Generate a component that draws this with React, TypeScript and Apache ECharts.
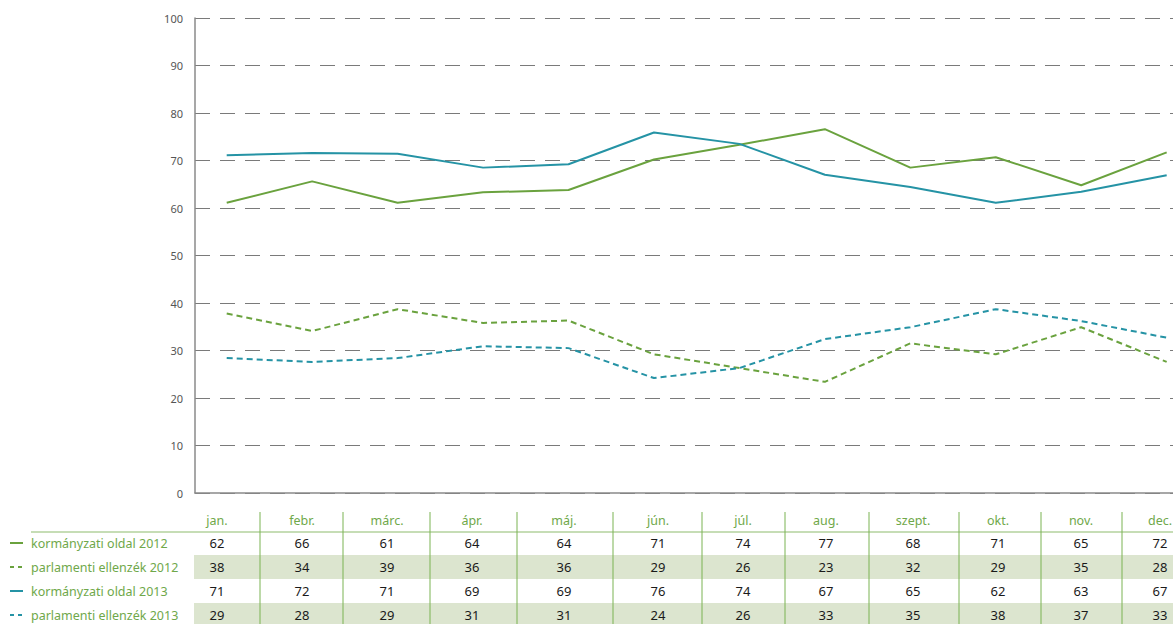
import React, { useEffect, useRef } from "react";
import * as echarts from "echarts";

const months = ["jan.", "febr.", "márc.", "ápr.", "máj.", "jún.", "júl.", "aug.", "szept.", "okt.", "nov.", "dec."];
const seriesNames = ["kormányzati oldal 2012", "parlamenti ellenzék 2012", "kormányzati oldal 2013", "parlamenti ellenzék 2013"];
const korm2012 = [61.1, 65.6, 61.1, 63.3, 63.8, 70.2, 73.3, 76.6, 68.5, 70.7, 64.8, 71.7];
const parl2012 = [37.8, 34.1, 38.7, 35.8, 36.3, 29.2, 26.3, 23.4, 31.5, 29.2, 34.9, 27.6];
const korm2013 = [71.1, 71.6, 71.4, 68.5, 69.2, 75.9, 73.5, 67.0, 64.4, 61.1, 63.4, 66.9];
const parl2013 = [28.4, 27.6, 28.4, 30.9, 30.5, 24.2, 26.3, 32.4, 34.9, 38.7, 36.2, 32.7];
const table2012k = [62, 66, 61, 64, 64, 71, 74, 77, 68, 71, 65, 72];
const table2012p = [38, 34, 39, 36, 36, 29, 26, 23, 32, 29, 35, 28];
const table2013k = [71, 72, 71, 69, 69, 76, 74, 67, 65, 62, 63, 67];
const table2013p = [29, 28, 29, 31, 31, 24, 26, 33, 35, 38, 37, 33];

const GREEN = "#6aa23e";
const BLUE = "#2593a5";
const TEXT_GREEN = "#6fa84a";
const FONT = "'Noto Sans', sans-serif";

export default function App() {
  const ref = useRef<HTMLDivElement>(null);
  useEffect(() => {
    document.body.style.margin = "0";
    if (!ref.current) return;
    const chart = echarts.init(ref.current, null, { renderer: "svg" });

    const lineData = [korm2012, parl2012, korm2013, parl2013];
    const tableData = [table2012k, table2012p, table2013k, table2013p];
    const colors = [GREEN, GREEN, BLUE, BLUE];
    const dashed = [false, true, false, true];

    // table layout
    const colCenters = [217, 302, 387, 472, 564, 658, 743, 826, 913, 998, 1081, 1160];
    const dividers = [260, 343, 430, 517, 613, 702, 785, 869, 959, 1041, 1122];
    const rowY = [543, 567, 591, 615];
    const headerY = 520;
    const graphics: any[] = [];
    [1, 3].forEach((r) => {
      graphics.push({
        type: "rect",
        shape: { x: 194, y: rowY[r] - 12, width: 1173 - 194, height: 24 },
        style: { fill: "#dce5cf" },
        z: 0,
      });
    });
    graphics.push({
      type: "line",
      shape: { x1: 31, y1: 532, x2: 1173, y2: 532 },
      style: { stroke: "#8dbb6c", lineWidth: 1 },
    });
    dividers.forEach((x) => {
      graphics.push({
        type: "line",
        shape: { x1: x, y1: 512, x2: x, y2: 624 },
        style: { stroke: "#7ab353", lineWidth: 1 },
      });
    });
    months.forEach((m, i) => {
      graphics.push({
        type: "text",
        x: colCenters[i],
        y: headerY,
        style: { text: m, fill: TEXT_GREEN, font: `12.5px ${FONT}`, align: "center", verticalAlign: "middle" },
      });
    });
    tableData.forEach((row, r) => {
      row.forEach((v, i) => {
        graphics.push({
          type: "text",
          x: colCenters[i],
          y: rowY[r],
          style: { text: String(v), fill: "#1a1a1a", font: `13px ${FONT}`, align: "center", verticalAlign: "middle" },
        });
      });
      if (dashed[r]) {
        graphics.push({ type: "line", shape: { x1: 10, y1: rowY[r], x2: 14, y2: rowY[r] }, style: { stroke: colors[r], lineWidth: 2 } });
        graphics.push({ type: "line", shape: { x1: 18, y1: rowY[r], x2: 22, y2: rowY[r] }, style: { stroke: colors[r], lineWidth: 2 } });
      } else {
        graphics.push({ type: "line", shape: { x1: 10, y1: rowY[r], x2: 23, y2: rowY[r] }, style: { stroke: colors[r], lineWidth: 2 } });
      }
      graphics.push({
        type: "text",
        x: 31,
        y: rowY[r],
        style: { text: seriesNames[r], fill: TEXT_GREEN, font: `12.5px ${FONT}`, align: "left", verticalAlign: "middle" },
      });
    });

    chart.setOption({
      animation: false,
      textStyle: { fontFamily: FONT },
      grid: { left: 195, top: 18, right: 0, bottom: 131, containLabel: false },
      xAxis: {
        type: "value",
        min: -0.371,
        max: 11.074,
        axisLine: { show: true, onZero: false, lineStyle: { color: "#8a8a8a", width: 1.5 } },
        axisTick: { show: false },
        axisLabel: { show: false },
        splitLine: { show: false },
      },
      yAxis: {
        type: "value",
        min: 0,
        max: 100,
        interval: 10,
        axisLine: { show: true, onZero: false, lineStyle: { color: "#8a8a8a", width: 1.5 } },
        axisTick: { show: false },
        axisLabel: { color: "#555", fontSize: 11, margin: 12, fontFamily: FONT },
        splitLine: { show: true, lineStyle: { color: "#7a7a7a", type: [15, 10], width: 1 } },
      },
      series: lineData.map((d, k) => ({
        name: seriesNames[k],
        type: "line",
        data: d.map((v, i) => [i, v]),
        symbol: "none",
        lineStyle: { color: colors[k], width: 2, type: dashed[k] ? [6, 4] : "solid" },
        z: 3,
      })),
      graphic: graphics,
    });
    return () => chart.dispose();
  }, []);
  return <div ref={ref} style={{ width: 1173, height: 624 }} />;
}
